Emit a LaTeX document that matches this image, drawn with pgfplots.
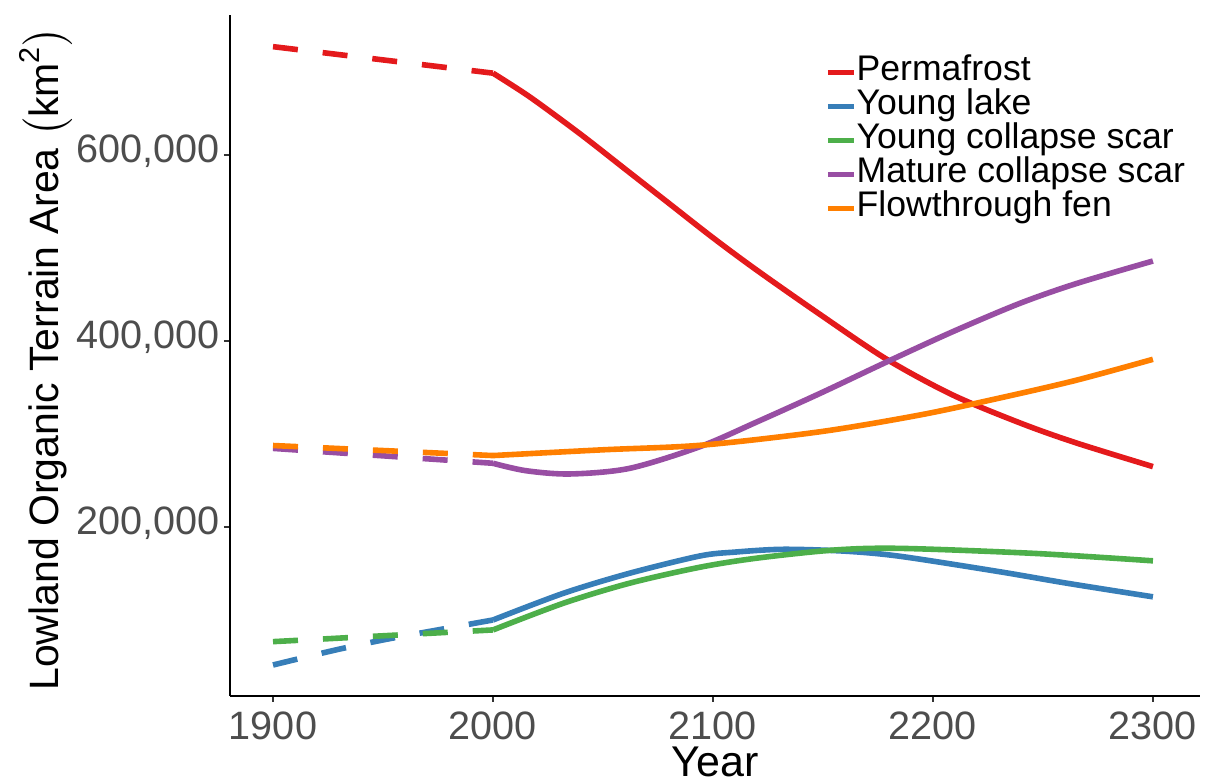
\documentclass[border=0pt]{standalone}
\usepackage{pgfplots}
\pgfplotsset{compat=1.18}
\usepackage{amsmath}
\usepackage{fontspec}
\setmainfont{Liberation Sans}
\definecolor{cRed}{HTML}{E41A1C}
\definecolor{cBlue}{HTML}{377EB8}
\definecolor{cGreen}{HTML}{4DAF4A}
\definecolor{cPurple}{HTML}{984EA3}
\definecolor{cOrange}{HTML}{FF7F00}
\definecolor{tickgray}{HTML}{4D4D4D}
\begin{document}
\begin{tikzpicture}
\begin{axis}[
  scale only axis, width=485pt, height=340.5pt,
  xmin=1880.45, xmax=2321.4, ymin=18260, ymax=750540,
  axis x line*=bottom, axis y line*=left,
  axis line style={-, line width=1pt, black},
  xtick={1900,2000,2100,2200,2300},
  xticklabels={1900,2000,2100,2200,2300},
  ytick={200000,400000,600000},
  yticklabels={{200,000},{400,000},{600,000}},
  scaled y ticks=false,
  tick align=outside, major tick length=3pt,
  tick style={line width=1pt, color=black!80},
  xticklabel style={font=\fontsize{19.8}{21}\selectfont, text=tickgray, anchor=base, inner sep=0pt, yshift=-19pt},
  yticklabel style={font=\fontsize{19.8}{21}\selectfont, text=tickgray, anchor=base east, inner sep=0pt, xshift=-2pt, yshift=-0.36em},
  xlabel={Year},
  ylabel={Lowland Organic Terrain Area $\bigl(\text{km}^{\text{2}}\bigr)$},
  xlabel style={at={(axis description cs:0.5,0)}, anchor=base, inner sep=0pt, yshift=-40.5pt, font=\fontsize{21.5}{24}\selectfont},
  ylabel style={at={(axis description cs:-0.1895,0.495)}, anchor=center, inner sep=0pt, font=\fontsize{20.5}{24}\selectfont},
  legend style={draw=none, fill=none, at={(axis description cs:0.613,0.941)}, anchor=north west, inner sep=0pt, row sep=0pt,
    font=\fontsize{17.8}{20}\selectfont,
    nodes={inner sep=0pt, text height=12.5pt, text depth=4.5pt}},
  legend cell align=left,
  legend image code/.code={\draw[#1, solid] (0pt,0pt) -- (13pt,0pt);},
  /tikz/every even column/.append style={column sep=7pt},
  every axis plot/.append style={line width=2.8pt},
]
% dashed historical segments
\addplot[cRed, dash pattern=on 12.5pt off 12.5pt, forget plot] coordinates {(1900,716500) (2000,688000)};
\addplot[cBlue, smooth, dash pattern=on 12.5pt off 12.5pt, forget plot] coordinates {(1900,51600) (1928,67500) (1950,78500) (1973,88500) (2000,100000)};
\addplot[cGreen, dash pattern=on 12.5pt off 12.5pt, forget plot] coordinates {(1900,76700) (2000,89300)};
\addplot[cPurple, dash pattern=on 12.5pt off 12.5pt, forget plot] coordinates {(1900,284500) (2000,268500)};
\addplot[cOrange, dash pattern=on 12.5pt off 12.5pt, forget plot] coordinates {(1900,287600) (2000,276800)};
% projections
\addplot[cRed, smooth] coordinates {(2000,688000) (2017,662000) (2040,622000) (2060,585000) (2080,548000) (2100,511000) (2120,476000) (2149,428000) (2179,380300) (2209,341900) (2240,311500) (2265,290500) (2300,264900)};
\addlegendentry{Permafrost}
\addplot[cBlue, smooth] coordinates {(2000,100000) (2032,128700) (2062,150200) (2094,168800) (2110,173000) (2132,176000) (2160,174000) (2185,168500) (2230,152000) (2261,139500) (2300,124900)};
\addlegendentry{Young lake}
\addplot[cGreen, smooth] coordinates {(2000,89300) (2032,118000) (2062,139500) (2094,156700) (2120,166500) (2155,175200) (2185,177000) (2246,171600) (2300,163600)};
\addlegendentry{Young collapse scar}
\addplot[cPurple, smooth] coordinates {(2000,268500) (2015,260500) (2035,257000) (2062,263000) (2094,286300) (2120,313000) (2149,344000) (2179,377500) (2209,410000) (2239,440000) (2265,461600) (2300,486000)};
\addlegendentry{Mature collapse scar}
\addplot[cOrange, smooth] coordinates {(2000,276800) (2050,283000) (2095,288000) (2149,302500) (2194,320400) (2230,338500) (2265,357700) (2300,380300)};
\addlegendentry{Flowthrough fen}
\end{axis}
\pgfresetboundingbox
\useasboundingbox (-115pt,-42pt) rectangle (487.5pt,348pt);
\end{tikzpicture}
\end{document}
